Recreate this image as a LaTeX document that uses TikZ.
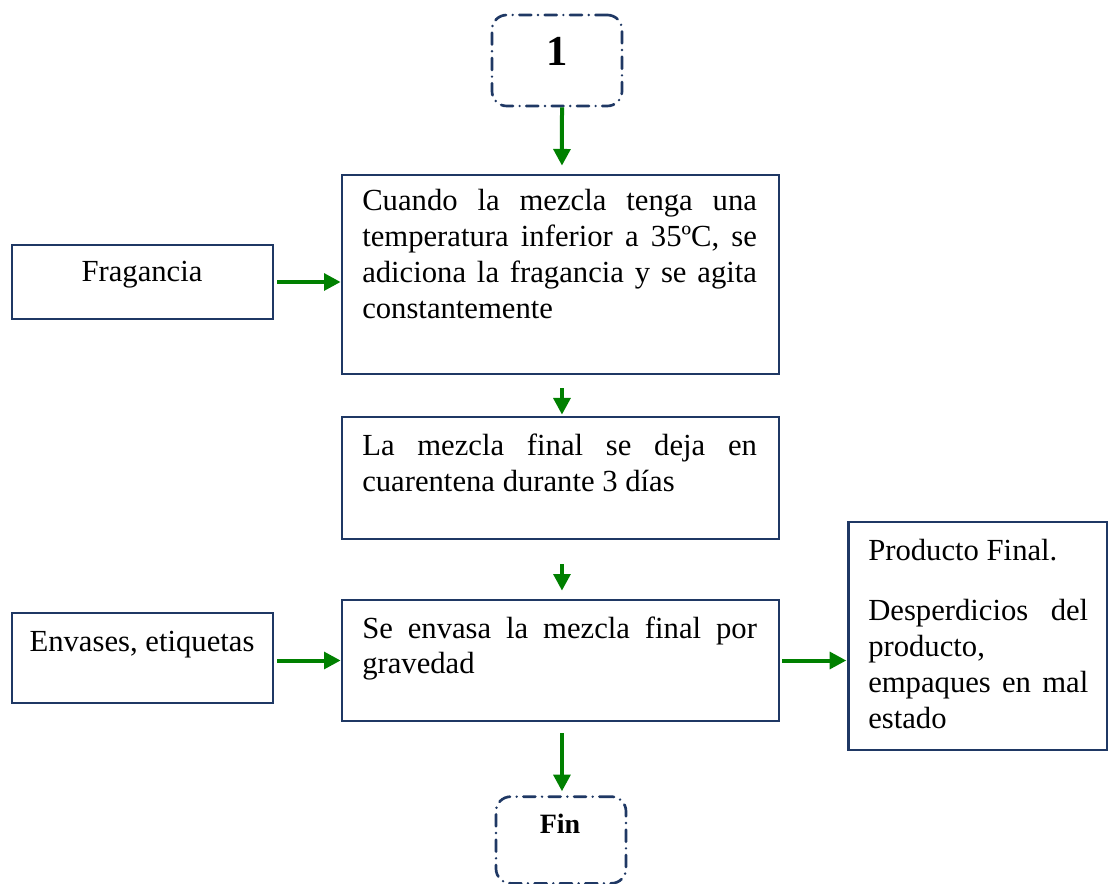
\documentclass[tikz,border=0pt]{standalone}
\usepackage{fontspec}
\setmainfont{Liberation Serif}
\usetikzlibrary{arrows.meta}
\definecolor{boxblue}{HTML}{1F3864}
\definecolor{flowgreen}{RGB}{0,128,0}
\begin{document}
\begin{tikzpicture}[x=0.75pt,y=-0.75pt,
  stepbox/.style={draw=boxblue,line width=2pt,rectangle,inner sep=0pt},
  termbox/.style={draw=boxblue,line width=2pt,rectangle,rounded corners=11pt,inner sep=0pt,
    dash pattern=on 9pt off 5pt on 0pt off 5pt,line cap=round},
  bodytext/.style={inner sep=0pt,font=\fontsize{23}{27}\selectfont},
  justtext/.style={bodytext,anchor=base west,align=justify,text width=296pt},
  flow/.style={draw=flowgreen,line width=3pt,-{Triangle[length=12.5pt,width=12.5pt]}}]
\useasboundingbox (0,0) rectangle (1108,884);

% terminal boxes
\node[termbox,minimum width=97.5pt,minimum height=68.25pt] (start) at (557,60.5) {};
\node[font=\fontsize{32}{36}\selectfont\bfseries,inner sep=0pt,anchor=base] (startlbl) at (557,66) {1};
\node[termbox,minimum width=97.5pt,minimum height=65pt] (fin) at (561,840) {};
\node[font=\fontsize{21}{25}\selectfont\bfseries,inner sep=0pt,anchor=base] (finlbl) at (560,833) {Fin};

% process boxes
\node[stepbox,minimum width=327.75pt,minimum height=149.25pt] (b1) at (560.5,274.5) {};
\node[stepbox,minimum width=327.75pt,minimum height=91.5pt] (b2) at (560.5,478) {};
\node[stepbox,minimum width=327.75pt,minimum height=90.75pt] (b3) at (560.5,660.5) {};

% input and output boxes
\node[stepbox,minimum width=195.75pt,minimum height=55.5pt] (frag) at (142.5,282) {};
\node[stepbox,minimum width=195.75pt,minimum height=67.5pt] (env) at (142.5,658) {};
\node[stepbox,minimum width=194pt,minimum height=171pt] (out) at (978,636) {};

% texts
\node[justtext] (t1) at (362,211) {Cuando la mezcla tenga una\linebreak temperatura inferior a 35ºC, se\linebreak adiciona la fragancia y se agita\linebreak constantemente};
\node[justtext] (t2) at (362,456) {La mezcla final se deja en\linebreak cuarentena durante 3 días};
\node[justtext] (t3) at (362,638) {Se envasa la mezcla final por\linebreak gravedad};
\node[bodytext,anchor=base] (tfrag) at (142,282) {Fragancia};
\node[bodytext,anchor=base] (tenv) at (142,651) {Envases, etiquetas};
\node[bodytext,anchor=base west,align=justify,text width=165pt] (tout) at (868,561)
  {Producto Final.\par\vspace{18pt}Desperdicios del\linebreak producto,\\ empaques en mal\linebreak estado};

% connectors
\draw[flow,shorten >=6pt] ([xshift=3.75pt]start.south) -- ([xshift=1.1pt]b1.north);
\draw[flow,shorten <=9.75pt,shorten >=0.75pt] ([xshift=1.1pt]b1.south) -- ([xshift=1.1pt]b2.north);
\draw[flow,shorten <=18pt,shorten >=6pt] ([xshift=1.1pt]b2.south) -- ([xshift=1.1pt]b3.north);
\draw[flow,shorten <=8.25pt,shorten >=3pt] ([xshift=1.1pt]b3.south) -- ([xshift=1.1pt]fin.north -| b3.south);
\draw[flow,shorten <=2.25pt] (frag.east) -- (b1.west |- frag.east);
\draw[flow,shorten <=2.25pt] (env.east |- b3.west) -- (b3.west);
\draw[flow,shorten <=1.5pt,shorten >=0.75pt] (b3.east) -- (out.west |- b3.east);
\end{tikzpicture}
\end{document}
